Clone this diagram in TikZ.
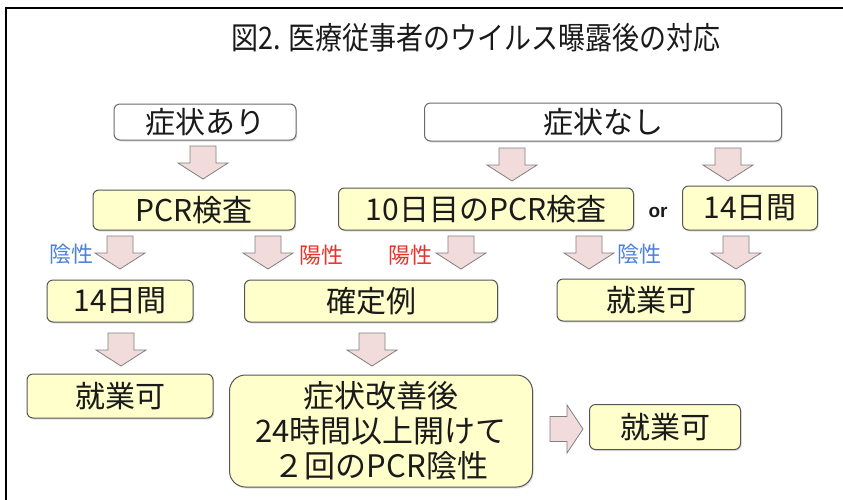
\documentclass[tikz,border=0pt]{standalone}
\usepackage{fontspec}
\setmainfont{Liberation Sans}
\newfontfamily\jp{Noto Sans CJK JP}
\usetikzlibrary{shadows}
\definecolor{boxfill}{HTML}{FFFFCC}
\definecolor{boxline}{HTML}{555555}
\definecolor{wline}{HTML}{6A6A6A}
\definecolor{arrfill}{HTML}{F2DCDB}
\definecolor{arrline}{HTML}{808080}
\definecolor{negblue}{HTML}{4F81D9}
\definecolor{posred}{HTML}{E8332B}
\definecolor{txt}{HTML}{1A1A1A}
\begin{document}
\begin{tikzpicture}[x=1pt,y=-1pt,
  every node/.style={text=txt, inner sep=0pt},
  base/.style={line width=1pt, rounded corners=6pt,
    drop shadow={shadow xshift=1.2pt, shadow yshift=-1.5pt, opacity=0.25},
    font=\jp\fontsize{30}{33}\selectfont},
  whitebox/.style={base, draw=wline, fill=white},
  yelbox/.style={base, draw=boxline, fill=boxfill},
  lab/.style={font=\jp\fontsize{22}{24}\selectfont},
  neglab/.style={lab, text=negblue},
  poslab/.style={lab, text=posred},
  arrowbox/.style={fill=arrfill, draw=arrline, line width=0.8pt, line join=miter},
  blockdown/.pic={\draw[arrowbox] (-13,0) -- (13,0) -- (13,17) -- (25,17) -- (0,33) -- (-25,17) -- (-13,17) -- cycle;},
  blockright/.pic={\draw[arrowbox] (0,-12.5) -- (17,-12.5) -- (17,-24) -- (33,0) -- (17,24) -- (17,12.5) -- (0,12.5) -- cycle;}
]
\useasboundingbox (0,0) rectangle (843,499);
\fill[white] (0,0) rectangle (843,499);
\draw[line width=2pt, black] (6,510) -- (6,8) -- (850,8);

\begin{scope}[shift={(476,38)}, yscale=1.15]
\node[font=\jp\fontsize{27}{30}\selectfont, transform shape] (title) at (0,0) {図2. 医療従事者のウイルス曝露後の対応};
\end{scope}

\node[whitebox, minimum width=182pt, minimum height=36pt] (yes) at (205,122) {症状あり};
\node[whitebox, minimum width=357pt, minimum height=38pt] (no) at (603,122) {症状なし};

\node[yelbox, minimum width=202pt, minimum height=40pt] (pcr) at (194,210) {PCR検査};
\node[yelbox, minimum width=295pt, minimum height=42pt] (pcr10) at (486,209) {10日目のPCR検査};
\node[font=\bfseries\fontsize{19}{22}\selectfont] (or) at (658,212) {or};
\node[yelbox, minimum width=135pt, minimum height=44pt] (d14a) at (750,208) {14日間};

\node[yelbox, minimum width=146pt, minimum height=42pt] (d14b) at (120,301) {14日間};
\node[yelbox, minimum width=253pt, minimum height=42pt] (conf) at (371,301) {確定例};
\node[yelbox, minimum width=188pt, minimum height=42pt] (workR) at (651,300) {就業可};

\node[yelbox, minimum width=186pt, minimum height=44pt] (workL) at (120,396) {就業可};
\node[yelbox, rounded corners=16pt, minimum width=303pt, minimum height=112pt, align=center,
      font=\jp\fontsize{31}{35}\selectfont] (big) at (381,431) {症状改善後\\24時間以上開けて\\２回のPCR陰性};
\node[yelbox, minimum width=151pt, minimum height=45pt] (work2) at (665,427) {就業可};

\node[neglab] (n1) at (71,254) {陰性};
\node[poslab] (p1) at (321,255) {陽性};
\node[poslab] (p2) at (410,255) {陽性};
\node[neglab] (n2) at (639,254) {陰性};

\pic at (203,146) {blockdown};
\pic at (512,148) {blockdown};
\pic at (728,148) {blockdown};
\pic at (120,236) {blockdown};
\pic at (268,236) {blockdown};
\pic at (461,236) {blockdown};
\pic at (589,236) {blockdown};
\pic at (736,236) {blockdown};
\pic at (121,333) {blockdown};
\pic at (372,333) {blockdown};
\pic at (550,429) {blockright};
\end{tikzpicture}
\end{document}
